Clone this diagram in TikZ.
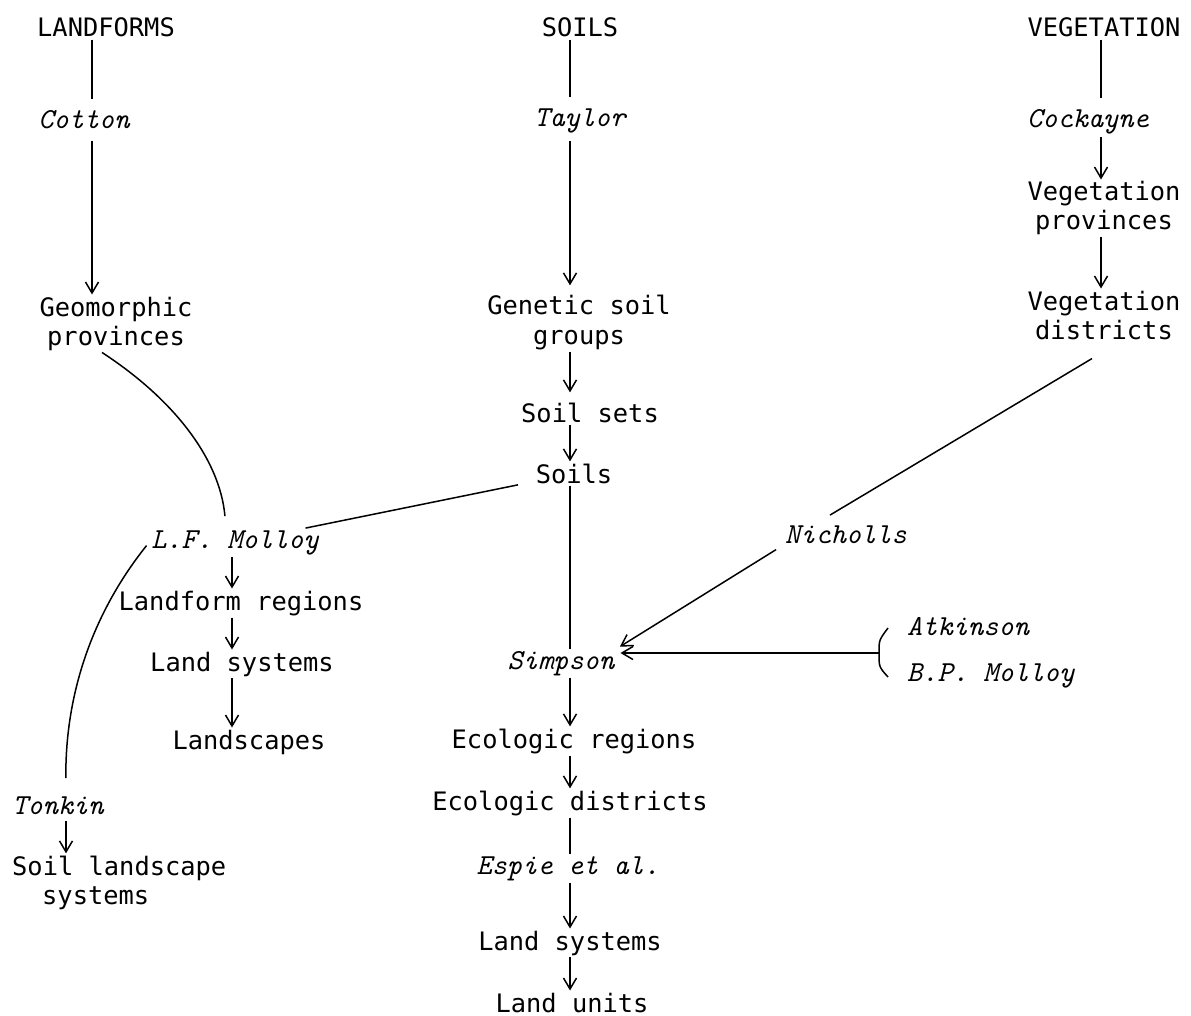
\documentclass[tikz,border=0pt]{standalone}
\usepackage{fontspec}
\setmainfont{DejaVu Sans Mono}
\usetikzlibrary{arrows.meta}

\begin{document}
\begin{tikzpicture}[
  x=1pt, y=-1pt,
  lbl/.style={font=\fontsize{25.4}{29}\selectfont, inner sep=2pt, anchor=base, align=center},
  auth/.style={font=\fontsize{29}{29}\ttfamily\itshape, inner sep=2pt, anchor=base},
  link/.style={line width=1.5pt},
  arrow/.style={link, -{Straight Barb[length=11pt,width=13pt]}}
]
\useasboundingbox (0,0) rectangle (1191,1016);

% columns of the vertical connectors
\coordinate (colL) at (92,0);
\coordinate (colM) at (232,0);
\coordinate (colT) at (66,0);
\coordinate (colS) at (570,0);
\coordinate (colV) at (1101,0);

% headings
\node[lbl] (landforms) at (106,37) {LANDFORMS};
\node[lbl] (soilhead) at (580,37) {SOILS};
\node[lbl] (vegetation) at (1104,37) {VEGETATION};

% landforms column (two-line nodes sit on their last line)
\node[auth] (cotton) at (84,129) {Cotton};
\node[lbl] (geo) at (116,345) {Geomorphic\\provinces};
\node[auth] (lfm) at (235,548) {L.F. Molloy};
\node[lbl] (landreg) at (241,610) {Landform regions};
\node[lbl] (landsysL) at (242,671) {Land systems};
\node[lbl] (landscapes) at (249,749) {Landscapes};
\node[auth] (tonkin) at (58,814) {Tonkin};
\node[lbl, anchor=base west, align=left] (sls) at (10,904) {Soil landscape\\\hspace*{30pt}systems};

% soils column
\node[auth] (taylor) at (580,127) {Taylor};
\node[lbl] (genetic) at (579,344) {Genetic soil\\groups};
\node[lbl] (soilsets) at (590,422) {Soil sets};
\node[lbl] (soils) at (574,483) {Soils};
\node[auth] (simp) at (561,669) {Simpson};
\node[lbl] (ecoreg) at (574,748) {Ecologic regions};
\node[lbl] (ecodist) at (570,810) {Ecologic districts};
\node[auth] (espie) at (568,874) {Espie et al.};
\node[lbl] (landsysC) at (570,950) {Land systems};
\node[lbl] (landunits) at (572,1012) {Land units};

% vegetation column
\node[auth] (cockayne) at (1088,128) {Cockayne};
\node[lbl] (vprov) at (1104,230) {Vegetation\\provinces};
\node[lbl] (vdist) at (1104,339) {Vegetation\\districts};
\node[auth] (nich) at (846,543) {Nicholls};
\node[auth, anchor=base west] (atk) at (905,635) {Atkinson};
\node[auth, anchor=base west] (bpm) at (905,681) {B.P. Molloy};
\coordinate (brk) at (879,653);

% plain links
\draw[link, shorten >=10pt] (landforms.south -| colL) -- (cotton.north -| colL);
\draw[link, shorten >=10pt] (soilhead.south -| colS) -- (taylor.north -| colS);
\draw[link, shorten >=10pt] (vegetation.south -| colV) -- (cockayne.north -| colV);
\draw[link] (soils.south -| colS) -- (simp.north -| colS);
\draw[link] (ecodist.south -| colS) -- (espie.north -| colS);
\draw[link, shorten <=16pt] (soils) -- (lfm);
\draw[link, shorten >=12pt] ([xshift=-14pt]geo.south) .. controls (175,400) and (220,460) .. ([xshift=-9pt]lfm.north);
\draw[link, shorten <=4pt, shorten >=16pt] (lfm.west) .. controls (95,610) and (65,690) .. (tonkin.north -| colT);
\draw[link] ([shift={(-12,17)}]vdist.south) -- ([shift={(-16,-8)}]nich.north);
\draw[link] (888,628) .. controls (879,640) .. (brk) .. controls (879,667) .. (888,677);

% arrows
\draw[arrow, shorten <=9pt] (cotton.south -| colL) -- (geo.north -| colL);
\draw[arrow] (lfm.south -| colM) -- (landreg.north -| colM);
\draw[arrow] (landreg.south -| colM) -- (landsysL.north -| colM);
\draw[arrow] (landsysL.south -| colM) -- (landscapes.north -| colM);
\draw[arrow, shorten <=5pt] (tonkin.south -| colT) -- (sls.north -| colT);
\draw[arrow, shorten <=5pt, shorten >=8pt] (taylor.south -| colS) -- (genetic.north -| colS);
\draw[arrow, shorten >=8pt] (genetic.south -| colS) -- (soilsets.north -| colS);
\draw[arrow] (soilsets.south -| colS) -- (soils.north -| colS);
\draw[arrow] (simp.south -| colS) -- (ecoreg.north -| colS);
\draw[arrow] (ecoreg.south -| colS) -- (ecodist.north -| colS);
\draw[arrow] (espie.south -| colS) -- (landsysC.north -| colS);
\draw[arrow] (landsysC.south -| colS) -- (landunits.north -| colS);
\draw[arrow] (cockayne.south -| colV) -- (vprov.north -| colV);
\draw[arrow] (vprov.south -| colV) -- (vdist.north -| colV);
\draw[arrow, shorten <=8pt, shorten >=4pt] (nich.south west) -- (simp.north east);
\draw[arrow, shorten >=4pt] (brk) -- (brk -| simp.east);
\end{tikzpicture}
\end{document}
